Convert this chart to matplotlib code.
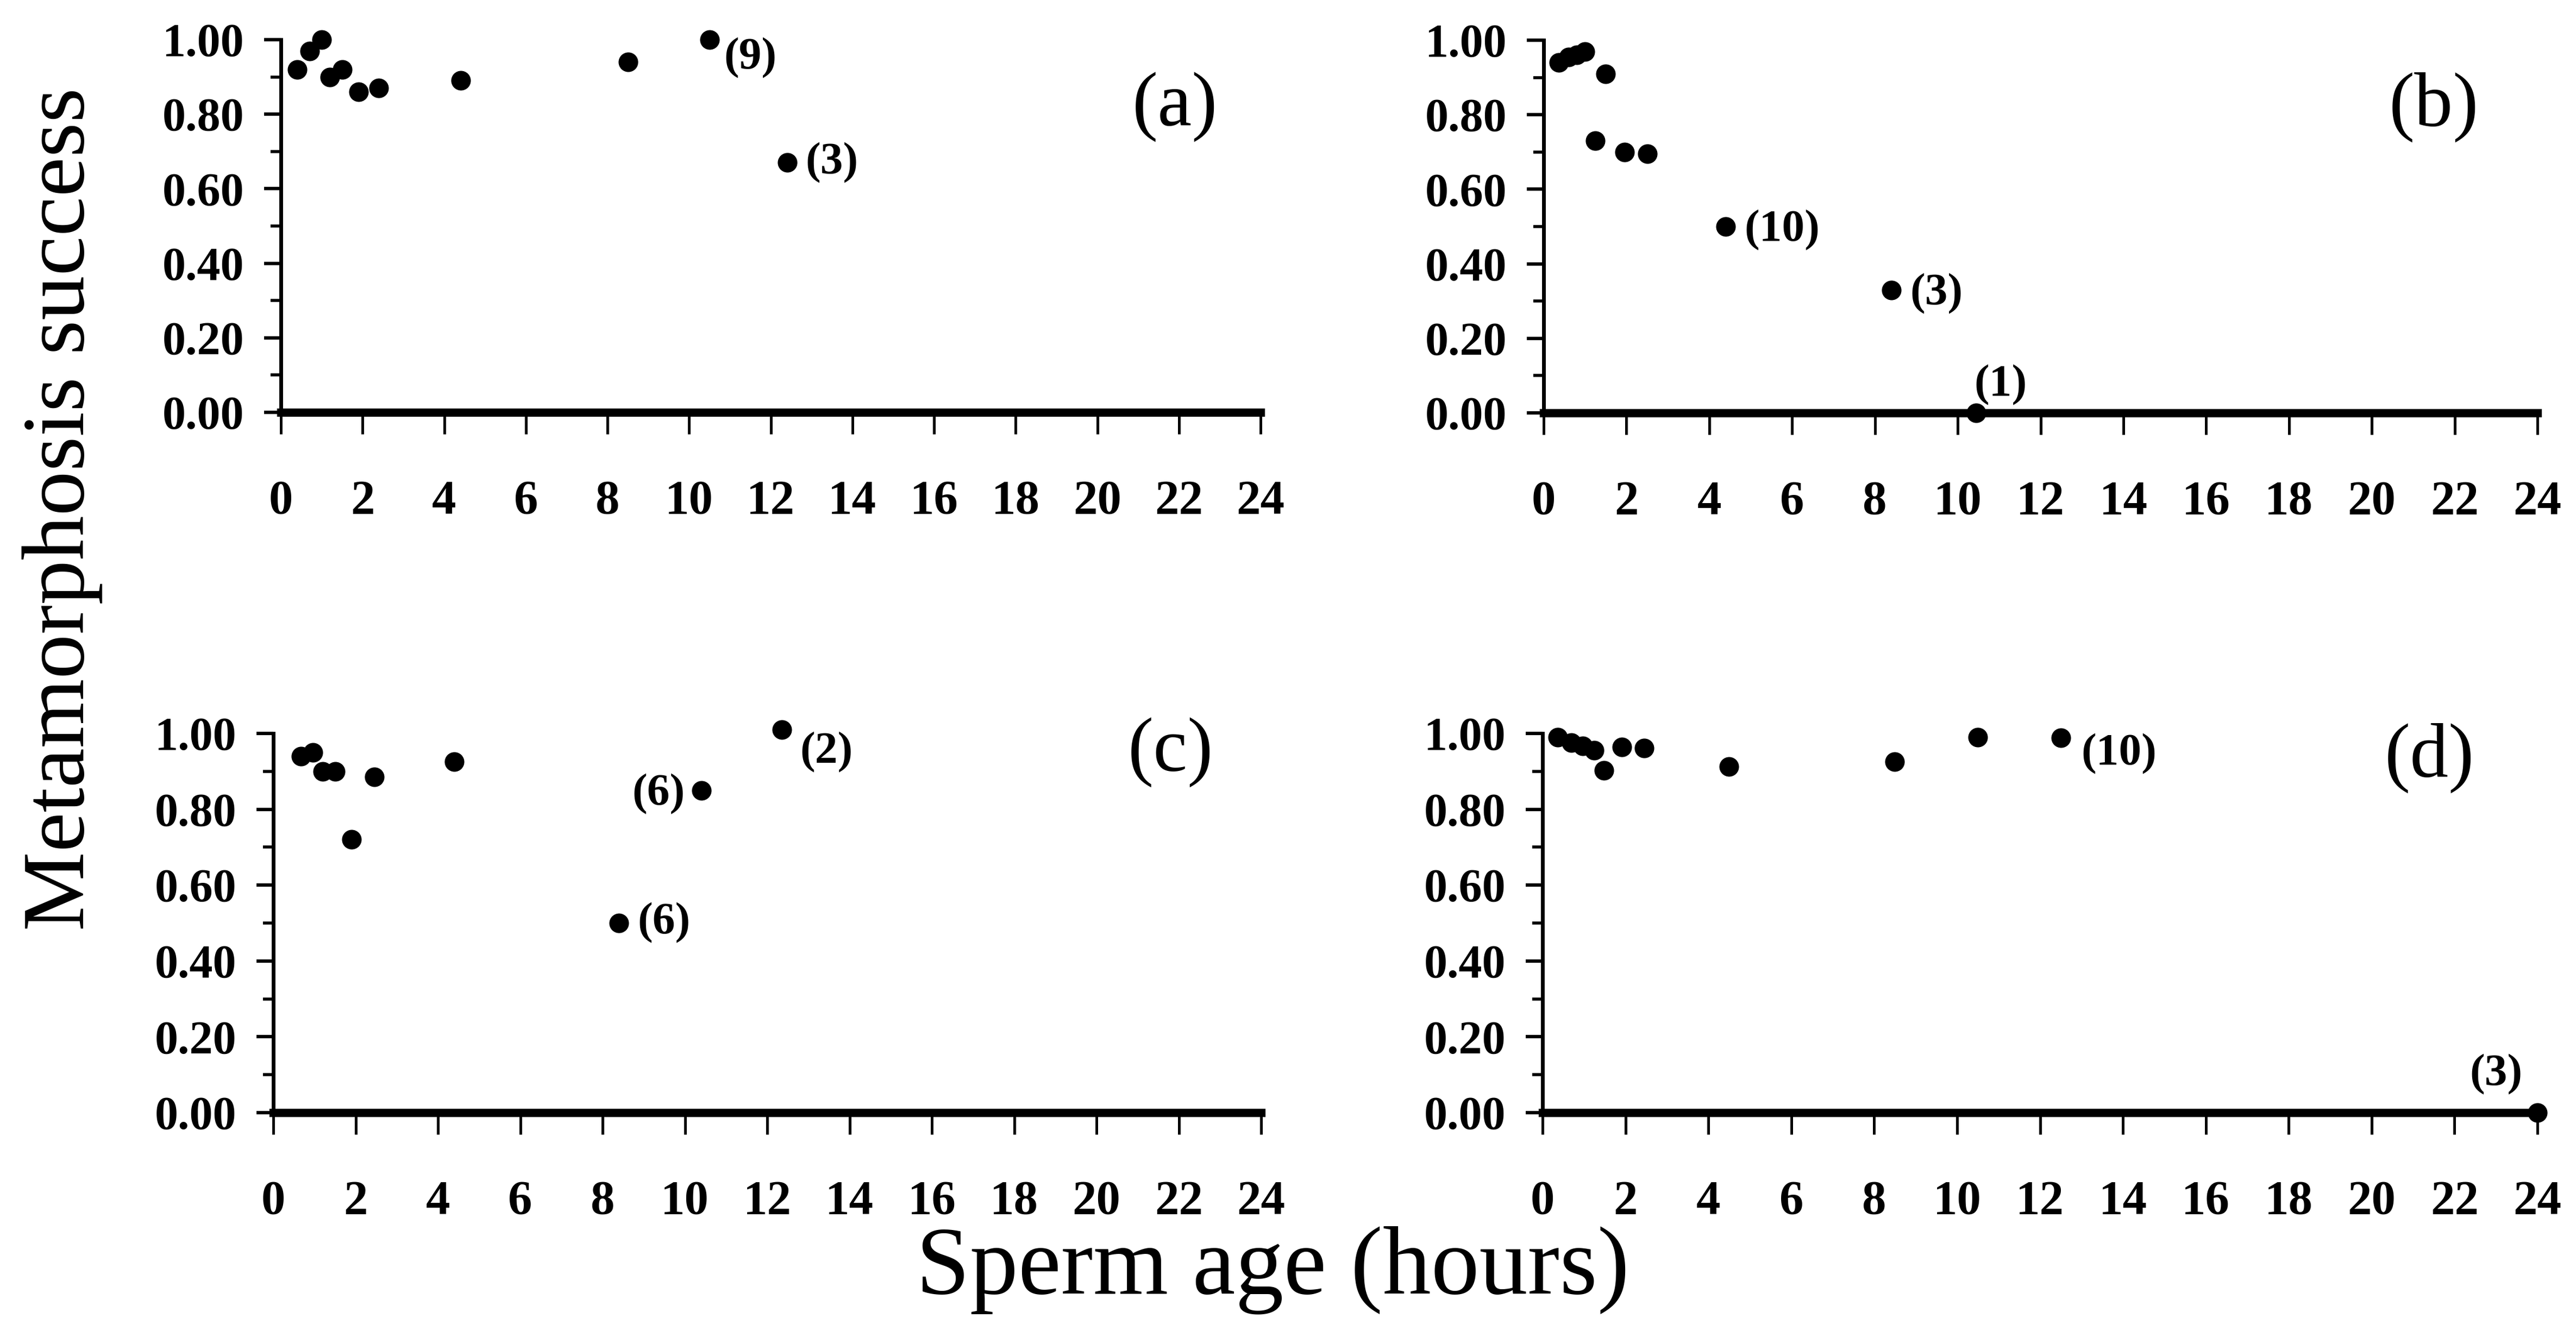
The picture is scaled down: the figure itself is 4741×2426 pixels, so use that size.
import matplotlib
matplotlib.use('Agg')
import matplotlib.pyplot as plt
from matplotlib.ticker import FixedLocator

plt.rcParams['font.family'] = ['Liberation Serif', 'DejaVu Serif']

# ---- data ----
x_ticks = list(range(0, 25, 2))
y_ticks = [0.0, 0.2, 0.4, 0.6, 0.8, 1.0]
y_minor = [0.1, 0.3, 0.5, 0.7, 0.9]
y_tick_labels = ['0.00', '0.20', '0.40', '0.60', '0.80', '1.00']

a_x = [0.4, 0.7, 1.0, 1.2, 1.5, 1.9, 2.4, 4.4, 8.5, 10.5, 12.4]
a_y = [0.92, 0.97, 1.00, 0.90, 0.92, 0.86, 0.87, 0.89, 0.94, 1.00, 0.67]

b_x = [0.37, 0.6, 0.8, 1.0, 1.5, 1.25, 1.95, 2.5, 4.4, 8.4, 10.45]
b_y = [0.94, 0.955, 0.96, 0.97, 0.91, 0.73, 0.70, 0.695, 0.50, 0.33, 0.0]

c_x = [0.67, 0.97, 1.2, 1.5, 1.9, 2.45, 4.4, 8.4, 10.4, 12.35]
c_y = [0.94, 0.95, 0.90, 0.90, 0.72, 0.885, 0.925, 0.50, 0.85, 1.01]

d_x = [0.37, 0.69, 0.97, 1.25, 1.48, 1.92, 2.45, 4.5, 8.5, 10.5, 12.5, 24.0]
d_y = [0.99, 0.976, 0.967, 0.955, 0.902, 0.964, 0.962, 0.912, 0.926, 0.99, 0.988, 0.0]

# sample-size annotations: (text, x, y, ha)
a_notes = [('(9)', 10.85, 0.95, 'left'), ('(3)', 12.85, 0.67, 'left')]
b_notes = [('(10)', 4.85, 0.49, 'left'), ('(3)', 8.85, 0.32, 'left'), ('(1)', 10.4, 0.075, 'left')]
c_notes = [('(6)', 10.0, 0.84, 'right'), ('(6)', 8.85, 0.50, 'left'), ('(2)', 12.8, 0.95, 'left')]
d_notes = [('(10)', 13.0, 0.946, 'left'), ('(3)', 23.0, 0.10, 'center')]

panel_labels = ['(a)', '(b)', '(c)', '(d)']
panel_label_pos = [(21.9, 0.82), (21.5, 0.82), (21.8, 0.95), (21.4, 0.935)]

W, H = 4741, 2426
fig = plt.figure(figsize=(W / 100, H / 100), dpi=100)

boxes = [
    (517, 2320, 73, 759),
    (2841, 4670, 74, 760),
    (503, 2321, 1350, 2048),
    (2839, 4670, 1350, 2048),
]

datasets = [(a_x, a_y, a_notes), (b_x, b_y, b_notes), (c_x, c_y, c_notes), (d_x, d_y, d_notes)]

for (l, r, t, b), (xs, ys, notes), lab, lpos in zip(boxes, datasets, panel_labels, panel_label_pos):
    ax = fig.add_axes([l / W, 1 - b / H, (r - l) / W, (b - t) / H])
    ax.plot(xs, ys, 'o', color='black', markersize=25, clip_on=False, zorder=5)
    ax.set_xlim(0, 24)
    ax.set_ylim(0, 1.0)
    ax.spines['top'].set_visible(False)
    ax.spines['right'].set_visible(False)
    ax.spines['left'].set_linewidth(5)
    ax.spines['bottom'].set_linewidth(11)
    ax.xaxis.set_major_locator(FixedLocator(x_ticks))
    ax.set_xticklabels([str(v) for v in x_ticks])
    ax.yaxis.set_major_locator(FixedLocator(y_ticks))
    ax.yaxis.set_minor_locator(FixedLocator(y_minor))
    ax.set_yticklabels(y_tick_labels)
    ax.tick_params(axis='x', which='major', direction='out', length=29, width=3.6, pad=60,
                   labelsize=64)
    ax.tick_params(axis='y', which='major', direction='out', length=22, width=4.5, pad=27,
                   labelsize=62)
    ax.tick_params(axis='y', which='minor', direction='out', length=14, width=4)
    for tl in ax.get_xticklabels() + ax.get_yticklabels():
        tl.set_fontweight('bold')
    for txt, nx, ny, ha in notes:
        ax.text(nx, ny, txt, ha=ha, va='center', fontsize=60, fontweight='bold')
    ax.text(lpos[0], lpos[1], lab, ha='center', va='center', fontsize=102)
    ax.set_facecolor('white')

fig.text(115 / W, 1 - 937 / H, 'Metamorphosis success', rotation=90, ha='center', va='center',
         fontsize=118)
fig.text(0.494, 1 - 2338 / H, 'Sperm age (hours)', ha='center', va='center', fontsize=128)

fig.savefig('out.png', dpi=100, facecolor='white')
